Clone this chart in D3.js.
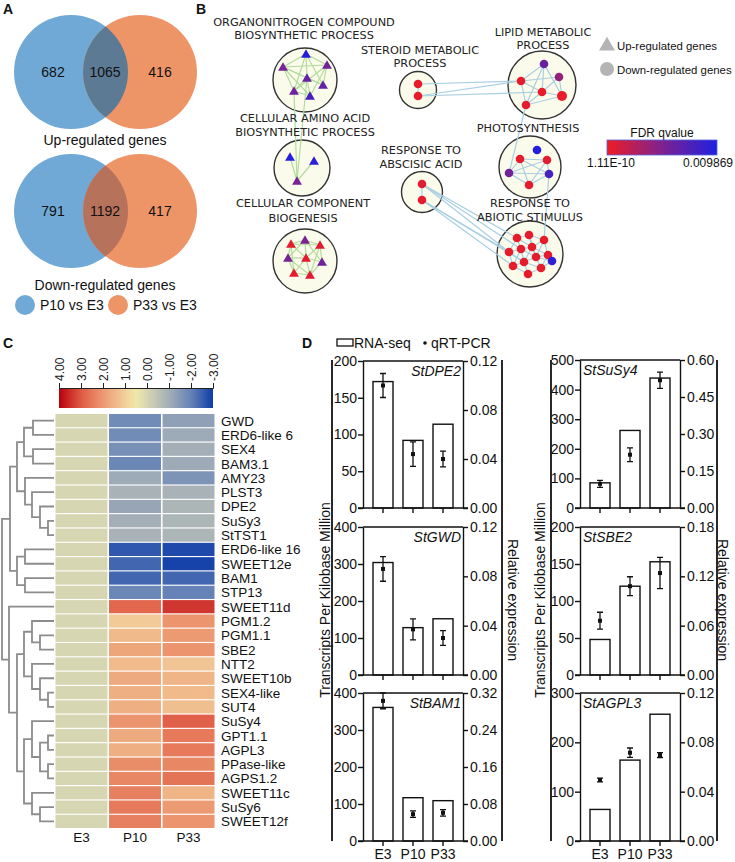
<!DOCTYPE html>
<html><head><meta charset="utf-8">
<script src="https://cdn.jsdelivr.net/npm/d3@7"></script>
<style>body{margin:0;background:#fff}svg{display:block;font-family:"Liberation Sans",Arial,sans-serif}</style>
</head><body><svg id="c" width="735" height="862"></svg>
<script>
// ---------------- DATA ----------------
// Panel A
const vennSets = ["P10 vs E3", "P33 vs E3"];
const vennTitles = ["Up-regulated genes", "Down-regulated genes"];
const upCounts = [682, 1065, 416];
const downCounts = [791, 1192, 417];

// Panel B (GO network)
const goTerms = [
  ["ORGANONITROGEN COMPOUND", "BIOSYNTHETIC PROCESS"],
  ["CELLULAR AMINO ACID", "BIOSYNTHETIC PROCESS"],
  ["CELLULAR COMPONENT", "BIOGENESIS"],
  ["STEROID METABOLIC", "PROCESS"],
  ["RESPONSE TO", "ABSCISIC ACID"],
  ["LIPID METABOLIC", "PROCESS"],
  ["PHOTOSYNTHESIS"],
  ["RESPONSE TO", "ABIOTIC STIMULUS"]
];
const goDirection = ["up", "up", "up", "down", "down", "down", "down", "down"];
const nodeFdr = [
  [0.0095, 0.0052, 0.0056, 0.0062, 0.0057, 0.0063, 0.0078],
  [0.0095, 0.0092, 0.0052],
  [0.0004, 0.0052, 0.0008, 0.0053, 0.0006, 0.0056, 0.0004, 0.0007],
  [0.0003, 0.0003],
  [0.0006, 0.0004],
  [0.0060, 0.0040, 0.0004, 0.0003, 0.0002, 0.0004],
  [0.0097, 0.0004, 0.0005, 0.0055, 0.0078, 0.0004],
  [0.0003, 0.0004, 0.0003, 0.0002, 0.0004, 0.0003, 0.0004, 0.0003, 0.0004, 0.0005, 0.0090, 0.0003, 0.0004]
];
const nodeEdges = [ // [clusterA, nodeA, clusterB, nodeB]
  [0,0,0,1],[0,0,0,2],[0,0,0,3],[0,0,0,4],[0,0,0,5],[0,1,0,2],[0,1,0,3],[0,1,0,4],[0,1,0,5],[0,2,0,4],
  [0,2,0,5],[0,3,0,4],[0,3,0,5],[0,4,0,6],[0,3,0,6],[0,2,0,6],[0,1,0,6],[0,4,1,2],[0,3,1,2],
  [1,0,1,2],[1,1,1,2],
  [2,0,2,1],[2,0,2,3],[2,0,2,4],[2,0,2,2],[2,1,2,2],[2,1,2,4],[2,1,2,3],[2,2,2,4],[2,2,2,5],[2,3,2,4],
  [2,3,2,6],[2,4,2,5],[2,4,2,6],[2,4,2,7],[2,5,2,7],[2,6,2,7],[2,3,2,7],[2,0,2,6],[2,2,2,7],[2,1,2,5],
  [3,0,3,1],[3,0,5,2],[3,1,5,2],[3,1,5,3],
  [4,0,4,1],[4,0,7,0],[4,0,7,3],[4,0,7,4],[4,1,7,7],[4,1,7,8],[4,1,7,3],
  [5,0,5,2],[5,0,5,3],[5,0,5,4],[5,0,5,5],[5,1,5,2],[5,1,5,3],[5,1,5,4],[5,2,5,3],[5,2,5,5],[5,3,5,4],[5,3,5,5],[5,5,5,4],
  [5,5,6,3],
  [6,1,6,2],[6,1,6,3],[6,1,6,4],[6,1,6,5],[6,2,6,3],[6,2,6,5],[6,3,6,4],[6,3,6,5],[6,2,6,4],[6,4,6,5],[6,4,7,2],
  [7,0,7,1],[7,0,7,4],[7,0,7,3],[7,0,7,5],[7,1,7,2],[7,1,7,5],[7,1,7,9],[7,2,7,6],[7,2,7,9],[7,2,7,5],
  [7,3,7,4],[7,3,7,7],[7,3,7,8],[7,4,7,5],[7,4,7,8],[7,4,7,9],[7,5,7,9],[7,5,7,6],[7,6,7,9],[7,6,7,10],
  [7,6,7,12],[7,7,7,8],[7,7,7,11],[7,8,7,9],[7,8,7,11],[7,8,7,12],[7,9,7,12],[7,9,7,10],[7,10,7,12],[7,11,7,12],[7,4,7,7],[7,5,7,8]
];
const fdrRange = ["1.11E-10", "0.009869"];

// Panel C (heatmap)
const stages = ["E3", "P10", "P33"];
const heatGenes = ["GWD","ERD6-like 6","SEX4","BAM3.1","AMY23","PLST3","DPE2","SuSy3","StTST1",
  "ERD6-like 16","SWEET12e","BAM1","STP13","SWEET11d","PGM1.2","PGM1.1","SBE2","NTT2","SWEET10b",
  "SEX4-like","SUT4","SuSy4","GPT1.1","AGPL3","PPase-like","AGPS1.2","SWEET11c","SuSy6","SWEET12f"];
const heatE3  = [0,0,0,0,0,0,0,0,0,0,0,0,0,0,0,0,0,0,0,0,0,0,0,0,0,0,0,0,0];
const heatP10 = [-1.8,-1.8,-1.7,-1.9,-1.1,-0.9,-1.2,-1.0,-0.9,-2.6,-2.4,-2.4,-1.9,2.8,1.1,1.4,1.8,1.4,1.7,1.6,1.6,2.1,1.7,1.6,2.2,2.3,2.4,2.5,2.4];
const heatP33 = [-1.3,-1.1,-1.0,-1.1,-1.6,-0.9,-0.8,-0.8,-0.8,-2.8,-2.9,-2.4,-2.0,3.4,2.1,2.0,2.1,1.2,1.5,1.4,1.3,2.9,2.5,2.5,2.3,2.6,1.5,2.0,2.1];
const heatTicks = [4, 3, 2, 1, 0, -1, -2, -3];
const dendro = [
  [
    [[["GWD","ERD6-like 6",21],["SEX4","BAM3.1",21],30],
     ["AMY23",["PLST3",["DPE2",["SuSy3","StTST1",6],14],22],29],37],
    [["ERD6-like 16","SWEET12e",29],["BAM1","STP13",29],37],
    44
  ],
  ["SWEET11d",
    [
      [["PGM1.2",["PGM1.1","SBE2",14],22],["NTT2",["SWEET10b",["SEX4-like","SUT4",6],14],22],30],
      [["SuSy4",[["GPT1.1","AGPL3",6],["PPase-like","AGPS1.2",6],14],22],["SWEET11c",["SuSy6","SWEET12f",14],22],30],
      37
    ],
    45
  ],
  52
];

// Panel D (RNA-seq TPM bars + qRT-PCR points)
const qGenes = ["StDPE2","StGWD","StBAM1","StSuSy4","StSBE2","StAGPL3"];
const rnaSeq = [[172,92,114],[304,128,152],[361,117,109],[85,262,439],[48,120,153],[64,164,257]];
const qpcr   = [[0.100,0.044,0.040],[0.086,0.037,0.030],[0.303,0.058,0.061],[0.098,0.216,0.518],[0.066,0.108,0.124],[0.0495,0.0716,0.0697]];
const qpcrErr= [[0.0098,0.010,0.0064],[0.010,0.0085,0.006],[0.017,0.007,0.007],[0.014,0.028,0.033],[0.0103,0.0115,0.019],[0.0015,0.0038,0.002]];
const leftTicks  = [[0,50,100,150,200],[0,100,200,300,400],[0,100,200,300,400],[0,100,200,300,400,500],[0,50,100,150,200],[0,100,200,300]];
const rightTicks = [[0,0.04,0.08,0.12],[0,0.04,0.08,0.12],[0,0.08,0.16,0.24,0.32],[0,0.15,0.30,0.45,0.60],[0,0.06,0.12,0.18],[0,0.04,0.08,0.12]];

// ---------------- DRAW ----------------
const svg = d3.select("#c");
const FONT = '"Liberation Sans",Arial,sans-serif';
function label(t, x, y, opts = {}) {
  const el = svg.append("text").attr("x", x).attr("y", y).text(t)
    .attr("font-size", opts.size || 14).attr("font-weight", opts.bold ? "bold" : null)
    .attr("font-style", opts.italic ? "italic" : null)
    .attr("text-anchor", opts.anchor || "start").attr("fill", opts.fill || "#111");
  if (opts.family) el.attr("font-family", opts.family);
  return el;
}
label("A", 3, 14, {bold: true, size: 14});
label("B", 196, 14, {bold: true, size: 14});
label("C", 3, 348, {bold: true, size: 14});
label("D", 302, 348, {bold: true, size: 14});

// ---- Panel A ----
const vennCol = ["#70a9d5", "#ee9568"];
const vennOverlap = ["#5d7a95", "#b6725a"];
const vennLayout = [{cy: 72, ty: 145}, {cy: 211, ty: 290}];
const vx = d3.scalePoint().domain([0, 1]).range([71, 140]);
const defs = svg.append("defs");
[upCounts, downCounts].forEach((counts, i) => {
  const L = vennLayout[i], r = 57;
  const g = svg.append("g");
  g.append("circle").attr("cx", vx(0)).attr("cy", L.cy).attr("r", r).attr("fill", vennCol[0]);
  g.append("circle").attr("cx", vx(1)).attr("cy", L.cy).attr("r", r).attr("fill", vennCol[1]);
  const cid = "vclip" + i;
  defs.append("clipPath").attr("id", cid).append("circle").attr("cx", vx(0)).attr("cy", L.cy).attr("r", r);
  g.append("circle").attr("cx", vx(1)).attr("cy", L.cy).attr("r", r).attr("fill", vennOverlap[i]).attr("clip-path", `url(#${cid})`);
  const nx = [53, 105, 160];
  counts.forEach((c, j) => label(c, nx[j], L.cy + 5, {anchor: "middle", size: 14}));
  label(vennTitles[i], 105, L.ty, {anchor: "middle", size: 14});
});
vennSets.forEach((s, i) => {
  const x = [25, 118][i];
  svg.append("circle").attr("cx", x).attr("cy", 305).attr("r", 10).attr("fill", vennCol[i]);
  label(s, x + 15, 310, {size: 14});
});

// ---- Panel B ----
const fdrColor = d3.scaleLinear().domain([0, 0.005, 0.009869]).range(["#ee1c25", "#7d2290", "#1f1fe0"]);
const clusterLayout = [
  {cx: 305, cy: 80, r: 32, lx: 304, ly: [26, 39]},
  {cx: 302, cy: 168, r: 28, lx: 305, ly: [122, 136]},
  {cx: 305, cy: 261, r: 32, lx: 303, ly: [207, 222]},
  {cx: 418, cy: 90, r: 18.5, lx: 420, ly: [54, 67]},
  {cx: 422, cy: 192, r: 20.5, lx: 421, ly: [154, 168]},
  {cx: 542, cy: 85, r: 34, lx: 543, ly: [36, 49]},
  {cx: 530, cy: 167, r: 31, lx: 528, ly: [132]},
  {cx: 530, cy: 254, r: 33, lx: 530, ly: [207, 221]}
];
const nodeOffsets = [
  [[1,-26],[-22,-13],[22,-15],[2,-2],[-11,11],[18,5],[5,16]],
  [[-12,-11],[12,-7],[-5,13]],
  [[-14,-17],[0,-21],[15,-16],[-17,-3],[1,-3],[17,1],[-11,12],[5,14]],
  [[0,-6],[0,6]],
  [[0,-8],[0,8]],
  [[2,-21],[17,-8],[-21,-4],[0,7],[20,11],[-16,20]],
  [[7,-17],[-10,-8],[17,-7],[-21,6],[19,7],[-1,18]],
  [[-13,-16],[-1,-19],[14,-14],[-21,-2],[-9,-5],[2,-7],[18,1],[-17,12],[-6,8],[6,3],[22,7],[-2,20],[11,14]]
];
const npos = (c, n) => [clusterLayout[c].cx + nodeOffsets[c][n][0], clusterLayout[c].cy + nodeOffsets[c][n][1]];
clusterLayout.forEach(L => {
  svg.append("circle").attr("cx", L.cx).attr("cy", L.cy).attr("r", L.r)
    .attr("fill", "#fbfbec").attr("stroke", "#333").attr("stroke-width", 1.4);
});
const eg = svg.append("g");
nodeEdges.forEach(([ca, na, cb, nb]) => {
  const a = npos(ca, na), b = npos(cb, nb);
  eg.append("line").attr("x1", a[0]).attr("y1", a[1]).attr("x2", b[0]).attr("y2", b[1])
    .attr("stroke", goDirection[ca] === "up" ? "#b2dc9c" : "#a9cfe2").attr("stroke-width", 1.2);
});
const tri = d3.symbol().type(d3.symbolTriangle).size(42);
nodeFdr.forEach((arr, c) => {
  arr.forEach((f, n) => {
    const [x, y] = npos(c, n);
    if (goDirection[c] === "up") {
      svg.append("path").attr("d", tri).attr("transform", `translate(${x},${y + 1})`).attr("fill", fdrColor(f));
    } else {
      svg.append("circle").attr("cx", x).attr("cy", y).attr("r", (c === 5 && n === 4) ? 5 : 4.3).attr("fill", fdrColor(f));
    }
  });
});
goTerms.forEach((lines, i) => {
  const L = clusterLayout[i];
  lines.forEach((t, j) => label(t, L.lx, L.ly[j], {anchor: "middle", size: 11.3, fill: "#222", family: '"DejaVu Sans",sans-serif'}));
});
svg.append("path").attr("d", d3.symbol().type(d3.symbolTriangle).size(110)).attr("transform", "translate(607,46)").attr("fill", "#b4b4b4");
svg.append("circle").attr("cx", 607).attr("cy", 69).attr("r", 7).attr("fill", "#b4b4b4");
label("Up-regulated genes", 617, 50, {size: 11.4});
label("Down-regulated genes", 617, 74, {size: 11.4});
label("FDR qvalue", 662, 137, {anchor: "middle", size: 12});
const fg = defs.append("linearGradient").attr("id", "fdrg");
d3.range(0, 1.0001, 0.1).forEach(t => fg.append("stop").attr("offset", t).attr("stop-color", fdrColor(t * 0.009869)));
svg.append("rect").attr("x", 607).attr("y", 140).attr("width", 110).attr("height", 15).attr("fill", "url(#fdrg)").attr("stroke", "#5566dd").attr("stroke-width", 0.8);
label(fdrRange[0], 587, 167, {size: 12});
label(fdrRange[1], 733, 167, {size: 12, anchor: "end"});

// ---- Panel C ----
const heatColor = d3.scaleLinear()
  .domain([4, 3, 2, 1, 0.5, 0, -1, -2, -3])
  .range(["#b8000f", "#df5a44", "#ec9a72", "#f2cf9c", "#efe7a8", "#d7d6b2", "#a3aeb7", "#6583b6", "#0d3ca8"]);
const cbx = d3.scaleLinear().domain([4, -3]).range([59, 213]);
const hg = defs.append("linearGradient").attr("id", "heatg");
d3.range(0, 1.0001, 0.05).forEach(t => hg.append("stop").attr("offset", t).attr("stop-color", heatColor(4 - 7 * t)));
svg.append("rect").attr("x", 59).attr("y", 388).attr("width", 154).attr("height", 20).attr("fill", "url(#heatg)");
const cbAxis = svg.append("g").attr("transform", "translate(0,388)")
  .call(d3.axisTop(cbx).tickValues(heatTicks).tickSize(5).tickFormat(d => d.toFixed(2)));
cbAxis.select(".domain").attr("stroke", "#222");
cbAxis.selectAll("line").attr("stroke", "#222");
cbAxis.selectAll("text").attr("font-size", 12).attr("font-family", FONT).attr("fill", "#222")
  .attr("x", 0).attr("y", 0).attr("dy", "0.35em").attr("text-anchor", "start")
  .attr("transform", "translate(0,-7) rotate(-90)");

const rowY = d3.scaleBand().domain(heatGenes).range([414, 828]).paddingInner(0.08);
const colX = d3.scaleBand().domain(stages).range([55.5, 214.5]).paddingInner(0.03);
const heatVals = [heatE3, heatP10, heatP33];
stages.forEach((s, ci) => {
  heatGenes.forEach((gname, ri) => {
    svg.append("rect").attr("x", colX(s)).attr("y", rowY(gname)).attr("width", colX.bandwidth()).attr("height", rowY.bandwidth())
      .attr("fill", heatColor(heatVals[ci][ri]));
  });
  label(s, colX(s) + colX.bandwidth() / 2, 842, {anchor: "middle", size: 13.5});
});
heatGenes.forEach(gname => label(gname, 221, rowY(gname) + rowY.bandwidth() / 2 + 5, {size: 13.5}));
const dx = d3.scaleLinear().domain([0, 52]).range([54, 2]);
const dg = svg.append("g").attr("stroke", "#8c8c8c").attr("stroke-width", 1.8).attr("fill", "none");
function drawTree(node) {
  if (typeof node === "string") return {h: 0, y: rowY(node) + rowY.bandwidth() / 2};
  const [a, b, h] = node;
  const A = drawTree(a), B = drawTree(b);
  const x = dx(h);
  dg.append("path").attr("d", `M${dx(A.h)},${A.y}H${x}V${B.y}H${dx(B.h)}`);
  return {h, y: (A.y + B.y) / 2};
}
drawTree(dendro);

// ---- Panel D ----
const panelLayout = [
  {x: 363, top: 361, bot: 508, lmax: 200, rmax: 0.12, gl: "right"},
  {x: 363, top: 527, bot: 675, lmax: 400, rmax: 0.12, gl: "right"},
  {x: 363, top: 693, bot: 841, lmax: 400, rmax: 0.32, gl: "right"},
  {x: 580, top: 360, bot: 508, lmax: 500, rmax: 0.60, gl: "left"},
  {x: 580, top: 527, bot: 675, lmax: 200, rmax: 0.18, gl: "left"},
  {x: 580, top: 693, bot: 841, lmax: 300, rmax: 0.12, gl: "left"}
];
qGenes.forEach((gname, i) => {
  const P = panelLayout[i];
  const g = svg.append("g");
  const yL = d3.scaleLinear().domain([0, P.lmax]).range([P.bot, P.top]);
  const yR = d3.scaleLinear().domain([0, P.rmax]).range([P.bot, P.top]);
  const xb = d3.scaleBand().domain(stages).range([P.x + 5, P.x + 95]).paddingInner(1 / 3).paddingOuter(1 / 6);
  stages.forEach((s, j) => {
    g.append("rect").attr("x", xb(s)).attr("y", yL(rnaSeq[i][j])).attr("width", xb.bandwidth())
      .attr("height", P.bot - yL(rnaSeq[i][j])).attr("fill", "#fff").attr("stroke", "#111").attr("stroke-width", 1.4);
  });
  g.append("line").attr("x1", P.x).attr("x2", P.x + 100).attr("y1", P.top).attr("y2", P.top).attr("stroke", "#111").attr("stroke-width", 1.4);
  const la = g.append("g").attr("transform", `translate(${P.x},0)`)
    .call(d3.axisLeft(yL).tickValues(leftTicks[i]).tickSize(5).tickSizeOuter(0).tickPadding(1).tickFormat(d3.format("d")));
  const ra = g.append("g").attr("transform", `translate(${P.x + 100},0)`)
    .call(d3.axisRight(yR).tickValues(rightTicks[i]).tickSize(5).tickSizeOuter(0).tickPadding(2).tickFormat(d3.format(".2f")));
  const ba = g.append("g").attr("transform", `translate(0,${P.bot})`)
    .call(d3.axisBottom(xb).tickSize(5).tickSizeOuter(0).tickPadding(3));
  ba.select(".domain").attr("d", `M${P.x - 5},0H${P.x + 105}`);
  if (i % 3 !== 2) ba.selectAll("text").remove();
  [la, ra, ba].forEach(a => {
    a.selectAll(".domain,line").attr("stroke", "#111").attr("stroke-width", 1.4);
    a.selectAll("text").attr("font-size", 14).attr("font-family", FONT).attr("fill", "#111");
  });
  stages.forEach((s, j) => {
    const cx = xb(s) + xb.bandwidth() / 2, v = qpcr[i][j], e = qpcrErr[i][j];
    g.append("path").attr("d", `M${cx},${yR(v - e)}V${yR(v + e)}M${cx - 3},${yR(v - e)}h6M${cx - 3},${yR(v + e)}h6`)
      .attr("stroke", "#111").attr("stroke-width", 1.3).attr("fill", "none");
    g.append("rect").attr("x", cx - 2).attr("y", yR(v) - 2).attr("width", 4).attr("height", 4).attr("fill", "#111");
  });
  if (P.gl === "right") label(gname, P.x + 98, P.top + 15, {anchor: "end", italic: true, size: 14});
  else label(gname, P.x + 3, P.top + 15, {italic: true, size: 14});
});
[{l: 332, r: 502, tl: 325, tr: 513}, {l: 551, r: 717, tl: 540, tr: 723}].forEach(c => {
  svg.append("line").attr("x1", c.l).attr("x2", c.l).attr("y1", 360).attr("y2", 841).attr("stroke", "#111").attr("stroke-width", 1.8);
  svg.append("line").attr("x1", c.r).attr("x2", c.r).attr("y1", 360).attr("y2", 841).attr("stroke", "#111").attr("stroke-width", 1.8);
  svg.append("text").text("Transcripts Per Kilobase Million").attr("transform", `translate(${c.tl},600) rotate(-90)`)
    .attr("text-anchor", "middle").attr("dy", "0.35em").attr("font-size", 14).attr("fill", "#111");
  svg.append("text").text("Relative expression").attr("transform", `translate(${c.tr},600) rotate(90)`)
    .attr("text-anchor", "middle").attr("dy", "0.35em").attr("font-size", 14).attr("fill", "#111");
});
svg.append("rect").attr("x", 337).attr("y", 339).attr("width", 16).attr("height", 7).attr("fill", "#fff").attr("stroke", "#111").attr("stroke-width", 1.3);
label("RNA-seq", 354, 348, {size: 14});
svg.append("circle").attr("cx", 425).attr("cy", 343).attr("r", 1.8).attr("fill", "#111");
label("qRT-PCR", 431, 348, {size: 14});
</script></body></html>
